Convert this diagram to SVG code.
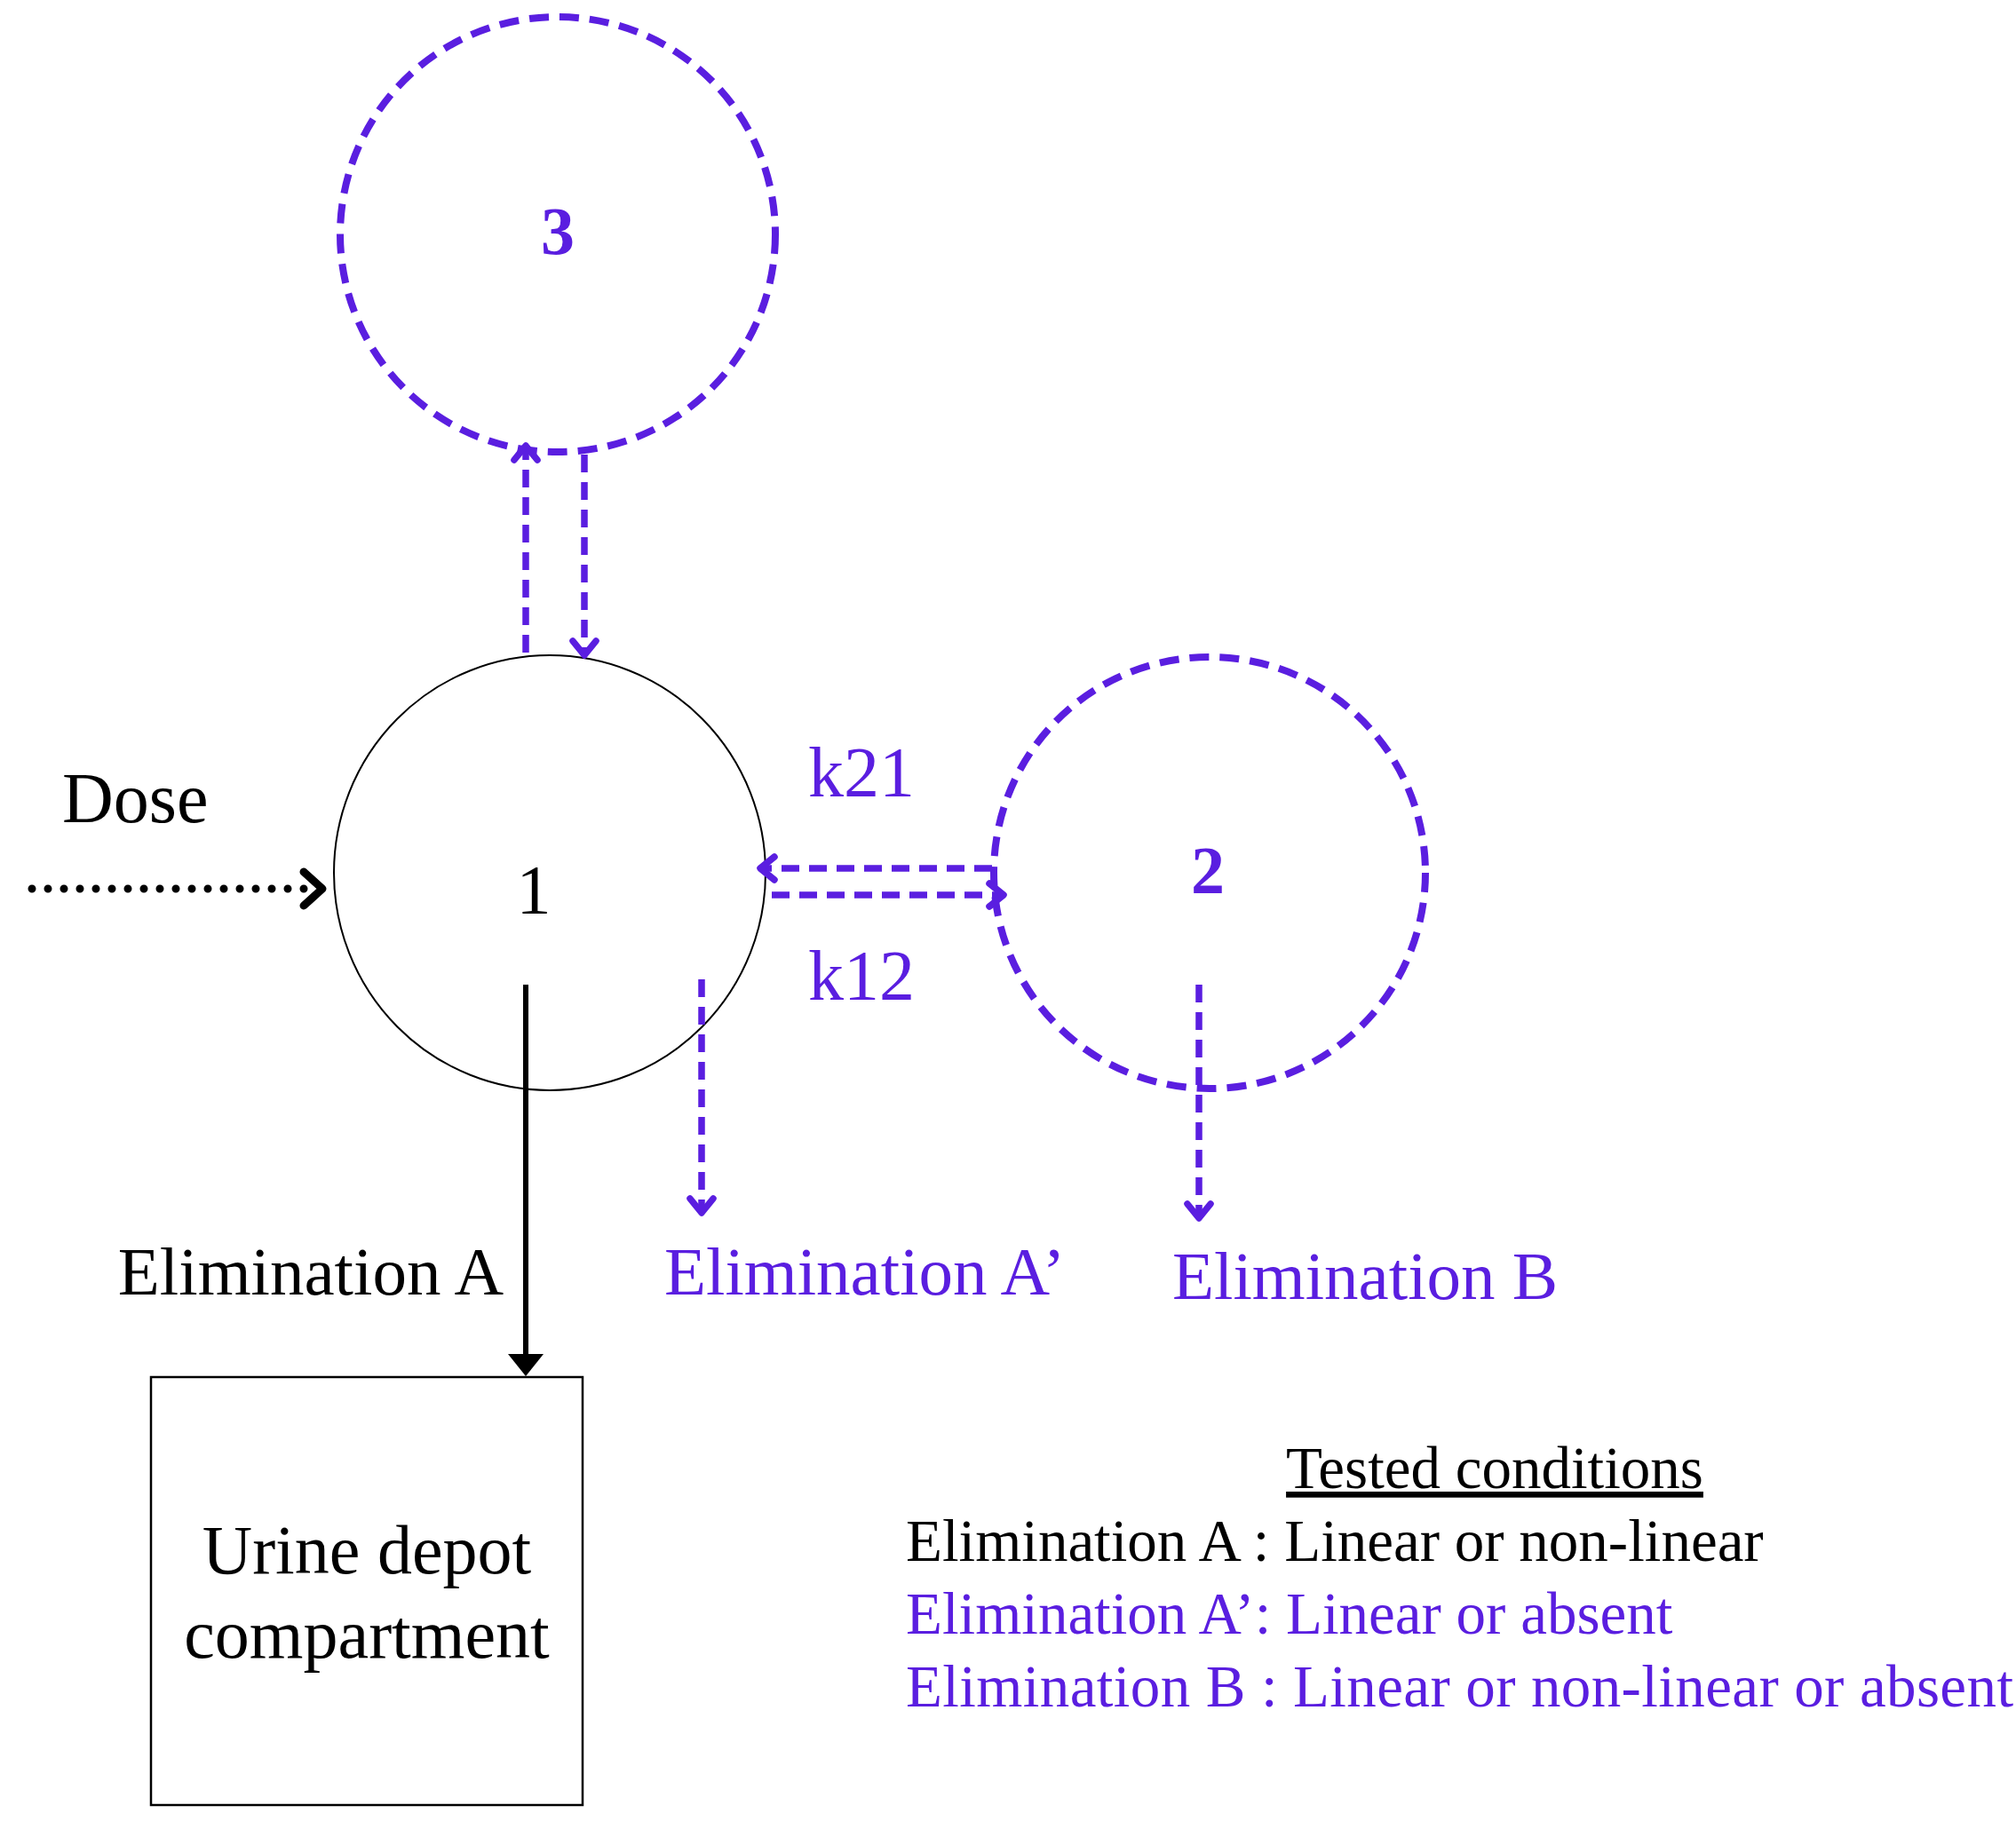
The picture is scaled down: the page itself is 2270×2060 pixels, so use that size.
<svg xmlns="http://www.w3.org/2000/svg" width="2270" height="2060" viewBox="0 0 2270 2060">
<style>
text{font-family:"Liberation Serif","Times New Roman",serif}
.p{fill:#5a1ee0}
.k{fill:#000}
.dc{fill:none;stroke:#5a1ee0;stroke-width:8;stroke-dasharray:22 12}
.dl{fill:none;stroke:#5a1ee0;stroke-width:7.5;stroke-dasharray:20 11}
.hd{fill:none;stroke:#5a1ee0;stroke-width:7.5;stroke-linecap:round;stroke-linejoin:round}
</style>
<rect width="2270" height="2060" fill="#fff"/>
<g id="node3"><circle cx="628" cy="264" r="245" class="dc"/><text x="628" y="286" font-size="76" font-weight="bold" class="p" text-anchor="middle">3</text></g>
<g id="node1"><ellipse cx="619" cy="983" rx="243" ry="245" fill="none" stroke="#000" stroke-width="2"/><text x="601" y="1028" font-size="78" class="k" text-anchor="middle">1</text></g>
<g id="node2"><circle cx="1362" cy="983" r="243" class="dc"/><text x="1360" y="1006" font-size="76" font-weight="bold" class="p" text-anchor="middle">2</text></g>
<g id="urine"><rect x="170" y="1551" width="486" height="482" fill="none" stroke="#000" stroke-width="2.5"/><text x="413" y="1772" font-size="78" text-anchor="middle">Urine depot</text><text x="413" y="1867" font-size="78" text-anchor="middle">compartment</text></g>
<g id="connectors">
<line x1="36" y1="1001" x2="355" y2="1001" stroke="#000" stroke-width="9" stroke-dasharray="0 18" stroke-linecap="round"/>
<polyline points="342,982 363,1001 342,1020" fill="none" stroke="#000" stroke-width="9" stroke-linejoin="round" stroke-linecap="round"/>
<line x1="592" y1="735" x2="592" y2="506" class="dl"/><polyline points="579,518 592,502 605,518" class="hd"/>
<line x1="658" y1="512" x2="658" y2="735" class="dl"/><polyline points="645,722 658,738 671,722" class="hd"/>
<line x1="1117" y1="978" x2="860" y2="978" class="dl"/><polyline points="872,965 856,978 872,991" class="hd"/>
<line x1="869" y1="1008" x2="1126" y2="1008" class="dl"/><polyline points="1114,995 1130,1008 1114,1021" class="hd"/>
<line x1="790" y1="1103" x2="790" y2="1362" class="dl"/><polyline points="777,1350 790,1366 803,1350" class="hd"/>
<line x1="1350" y1="1109" x2="1350" y2="1368" class="dl"/><polyline points="1337,1356 1350,1372 1363,1356" class="hd"/>
<line x1="592" y1="1109" x2="592" y2="1530" stroke="#000" stroke-width="6"/><polygon points="572,1525 612,1525 592,1550" fill="#000"/>
</g>
<g id="labels">
<text x="70" y="926" font-size="80">Dose</text>
<text x="910" y="897" font-size="80" class="p">k21</text>
<text x="910" y="1126" font-size="80" class="p">k12</text>
<text x="567" y="1458" font-size="77" text-anchor="end">Elimination A</text>
<text x="748" y="1458" font-size="77" class="p">Elimination A’</text>
<text x="1320" y="1463" font-size="77" class="p">Elimination B</text>
</g>
<g id="legend">
<text x="1683" y="1676" font-size="67" text-anchor="middle" text-decoration="underline">Tested conditions</text>
<text x="1020" y="1758" font-size="67">Elimination A : Linear or non-linear</text>
<text x="1020" y="1840" font-size="67" class="p">Elimination A’: Linear or absent</text>
<text x="1020" y="1922" font-size="67" class="p" textLength="1247">Elimination B : Linear or non-linear or absent</text>
</g>
</svg>
